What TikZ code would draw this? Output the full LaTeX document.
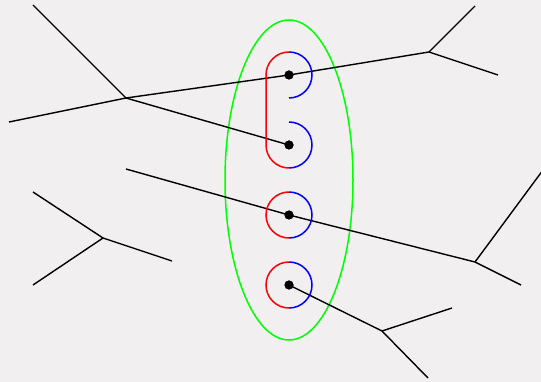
\documentclass[tikz,border=0pt]{standalone}
\begin{document}
\begin{tikzpicture}[x=1pt,y=-1pt,
  edge/.style={line width=1.4pt,black},
  arcred/.style={line width=1.5pt,red},
  arcblue/.style={line width=1.5pt,blue},
  dot/.style={circle,fill=black,inner sep=0pt,minimum size=9pt}]
\fill[fill={rgb,255:red,241;green,239;blue,240}] (0,0) rectangle (541,382);
\useasboundingbox (0,0) rectangle (541,382);
% ellipse
\draw[line width=1.5pt,green] (289,180) ellipse [x radius=64, y radius=160];
% dots
\node[dot] (d1) at (289,75) {};
\node[dot] (d2) at (289,145) {};
\node[dot] (d3) at (289,215) {};
\node[dot] (d4) at (289,285) {};
% junctions and ends
\coordinate (j1) at (126,98);
\coordinate (j2) at (429,52);
\coordinate (j3) at (103,238);
\coordinate (j4) at (475,262);
\coordinate (j5) at (382,331);
\coordinate (e1) at (33,5);
\coordinate (e2) at (9,122);
\coordinate (e3) at (475,6);
\coordinate (e4) at (498,75);
\coordinate (e5) at (33,192);
\coordinate (e6) at (33,285);
\coordinate (e7) at (172,261);
\coordinate (e8) at (126,169);
\coordinate (e9) at (543,170);
\coordinate (e10) at (521,285);
\coordinate (e11) at (452,308);
\coordinate (e12) at (428,378);
% edges
\draw[edge] (e1) -- (j1);
\draw[edge] (e2) -- (j1);
\draw[edge] (j1) -- (d1.center) -- (j2);
\draw[edge] (j1) -- (d2.center);
\draw[edge] (j2) -- (e3);
\draw[edge] (j2) -- (e4);
\draw[edge] (e5) -- (j3);
\draw[edge] (e6) -- (j3);
\draw[edge] (j3) -- (e7);
\draw[edge] (e8) -- (d3.center) -- (j4);
\draw[edge] (j4) -- (e9);
\draw[edge] (j4) -- (e10);
\draw[edge] (d4.center) -- (j5);
\draw[edge] (j5) -- (e11);
\draw[edge] (j5) -- (e12);
% arcs
\draw[arcred] (289,52) arc[start angle=-90,end angle=-180,radius=23] -- (266,145) arc[start angle=180,end angle=90,radius=23];
\draw[arcblue] (289,52) arc[start angle=-90,end angle=90,radius=23];
\draw[arcblue] (289,122) arc[start angle=-90,end angle=90,radius=23];
\draw[arcred] (289,192) arc[start angle=-90,end angle=-270,radius=23];
\draw[arcblue] (289,192) arc[start angle=-90,end angle=90,radius=23];
\draw[arcred] (289,262) arc[start angle=-90,end angle=-270,radius=23];
\draw[arcblue] (289,262) arc[start angle=-90,end angle=90,radius=23];
% dots on top
\fill (d1) circle (4.5);
\fill (d2) circle (4.5);
\fill (d3) circle (4.5);
\fill (d4) circle (4.5);
\end{tikzpicture}
\end{document}
